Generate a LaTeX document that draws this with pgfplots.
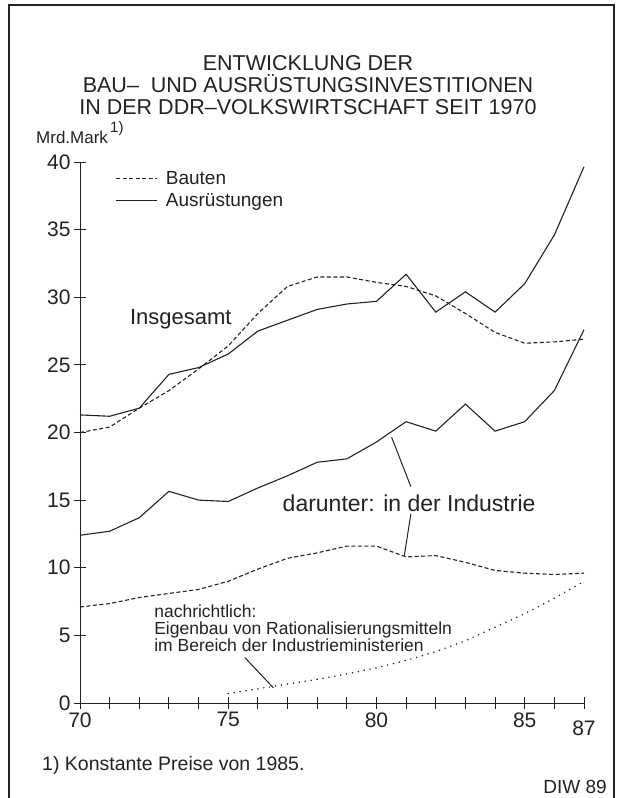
\documentclass[border=0pt]{standalone}
\usepackage{fontspec}
\setmainfont{Liberation Sans}
\usepackage{pgfplots}
\pgfplotsset{compat=1.18}
\definecolor{ink}{HTML}{222222}

\pgfplotstableread{
year bau aus ibau iaus
70 20.0 21.3 7.1 12.4
71 20.4 21.2 7.35 12.7
72 21.8 21.8 7.8 13.7
73 23.1 24.3 8.1 15.65
74 24.7 24.8 8.4 15.0
75 26.4 25.8 9.0 14.9
76 28.8 27.5 9.9 15.9
77 30.8 28.3 10.7 16.8
78 31.5 29.1 11.1 17.8
79 31.5 29.5 11.6 18.05
80 31.1 29.7 11.6 19.3
81 30.8 31.7 10.8 20.8
82 30.1 28.9 10.9 20.1
83 28.8 30.4 10.4 22.1
84 27.4 28.9 9.8 20.1
85 26.6 31.0 9.6 20.8
86 26.7 34.6 9.5 23.1
87 26.9 39.65 9.6 27.6
}\main

\pgfplotstableread{
year val
75 0.7
76 1.05
77 1.4
78 1.75
79 2.15
80 2.6
81 3.15
82 3.8
83 4.6
84 5.6
85 6.6
86 7.75
87 9.0
}\eigen

\begin{document}
\begin{tikzpicture}[x=1pt,y=1pt]
\useasboundingbox (-80,-95) rectangle (538,703);
\draw[line width=1.3pt, ink] (-71,-95) -- (-71,698) -- (534,698) -- (534,-95);
% title
\node[font=\fontsize{21.5}{21.5}\selectfont, text=ink, inner sep=0pt, align=center, anchor=north] at (228,648)
  {ENTWICKLUNG DER\\[0.5pt] BAU–\ \ UND AUSRÜSTUNGSINVESTITIONEN\\[0.5pt] IN DER DDR–VOLKSWIRTSCHAFT SEIT 1970};
\node[font=\fontsize{17}{17}\selectfont, text=ink, anchor=west, inner sep=0pt] at (-44,566) {Mrd.Mark};
\node[font=\fontsize{15}{15}\selectfont, text=ink, anchor=west, inner sep=0pt] at (30,574) {1)};
\node[font=\fontsize{19.5}{19.5}\selectfont, text=ink, anchor=west, inner sep=0pt] at (-38,-62) {1) Konstante Preise von 1985.};
\node[font=\fontsize{19}{19}\selectfont, text=ink, anchor=east, inner sep=0pt] at (527,-84) {DIW 89};
\begin{axis}[
  at={(0,0)}, anchor=south west, scale only axis,
  width=504pt, height=541pt,
  xmin=70, xmax=87, ymin=0, ymax=40,
  axis x line=bottom, axis y line=left,
  axis line style={-, line width=0.9pt, ink},
  xtick={70,...,86},
  xticklabels={70,,,,,75,,,,,80,,,,,85,},
  extra x ticks={87}, extra x tick labels={87},
  extra x tick style={tick label style={yshift=-8pt}},
  ytick={0,5,...,40},
  tick align=center, major tick length=12pt,
  tick style={ink, line width=0.9pt},
  tick label style={font=\fontsize{21}{21}\selectfont, text=ink},
  /pgf/number format/assume math mode=true,
  clip=false,
  legend style={draw=none, fill=none, font=\fontsize{19}{19}\selectfont,
    at={(axis cs:71.1,39.6)}, anchor=north west, row sep=3pt,
    cells={anchor=west}, text=ink},
  legend image code/.code={\draw[#1] (0pt,0pt) -- (41pt,0pt);},
  every axis plot/.append style={ink, line width=1.1pt},
]
\addplot[dash pattern=on 4pt off 2.5pt] table[x=year,y=bau]{\main};
\addlegendentry{\hspace{6pt}Bauten}
\addplot[solid] table[x=year,y=aus]{\main};
\addlegendentry{\hspace{6pt}Ausrüstungen}
\addplot[dash pattern=on 4pt off 2.5pt, forget plot] table[x=year,y=ibau]{\main};
\addplot[solid, forget plot] table[x=year,y=iaus]{\main};
\addplot[line width=1.7pt, line cap=round, dash pattern=on 0pt off 6pt, forget plot] table[x=year,y=val]{\eigen};

\node[font=\fontsize{22}{22}\selectfont, text=ink] at (axis cs:73.4,28.4) {Insgesamt};
\node[font=\fontsize{23}{23}\selectfont, text=ink] at (axis cs:81.1,14.75) {darunter: in der Industrie};
\draw[ink, line width=1pt] (axis cs:80.51,19.65) -- (axis cs:81.16,16.0);
\draw[ink, line width=1pt] (axis cs:81.16,13.98) -- (axis cs:80.94,10.9);
\node[font=\fontsize{17.5}{17}\selectfont, text=ink, anchor=north west, inner sep=0pt, align=left] at (axis cs:72.5,7.3)
  {nachrichtlich:\\ Eigenbau von Rationalisierungsmitteln\\ im Bereich der Industrieministerien};
\draw[ink, line width=1pt] (axis cs:75.56,3.36) -- (axis cs:76.52,1.13);
\end{axis}
\end{tikzpicture}
\end{document}
